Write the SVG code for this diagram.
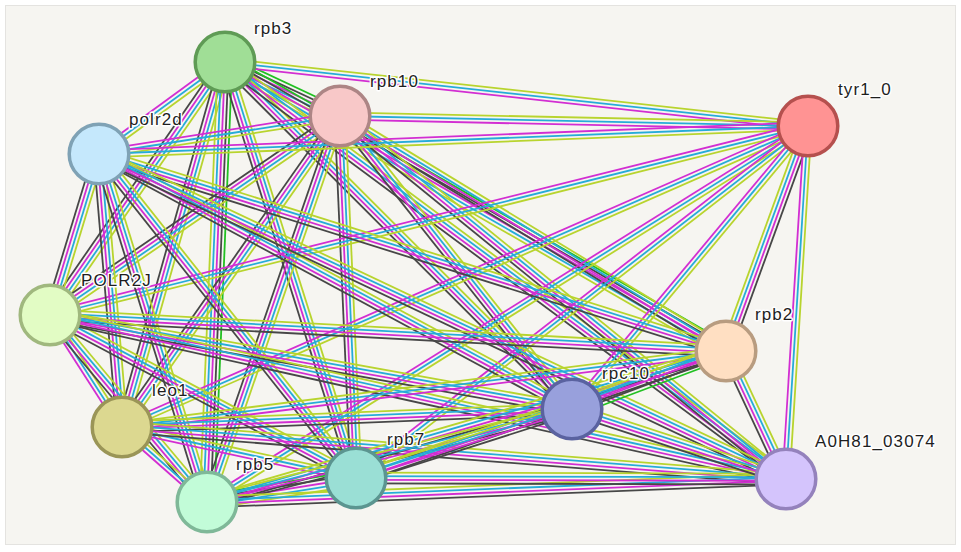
<svg xmlns="http://www.w3.org/2000/svg" width="961" height="552" viewBox="0 0 961 552">
<style>
.y{stroke:#b8d42e}.c{stroke:#26acd8}.m{stroke:#d22ed2}.k{stroke:#474747}.g{stroke:#22c022}
.b line{stroke-width:1.8;fill:none}
.n{stroke-width:3.5}
.lb{font-family:"Liberation Sans",Arial,sans-serif;font-size:17px;letter-spacing:1.1px;fill:#1e1e1e;stroke:#fff;stroke-width:3;stroke-linejoin:round;paint-order:stroke}
</style>
<defs>
<g id="ycm" class="b"><line class="y" x1="0" y1="-3.6" x2="1" y2="-3.6"/><line class="c" x1="0" y1="0" x2="1" y2="0"/><line class="m" x1="0" y1="3.6" x2="1" y2="3.6"/></g>
<g id="ycmk" class="b"><line class="y" x1="0" y1="-5.4" x2="1" y2="-5.4"/><line class="c" x1="0" y1="-1.8" x2="1" y2="-1.8"/><line class="m" x1="0" y1="1.8" x2="1" y2="1.8"/><line class="k" x1="0" y1="5.4" x2="1" y2="5.4"/></g>
<g id="g5" class="b"><line class="g" x1="0" y1="-7.2" x2="1" y2="-7.2"/><line class="k" x1="0" y1="-3.6" x2="1" y2="-3.6"/><line class="m" x1="0" y1="0" x2="1" y2="0"/><line class="c" x1="0" y1="3.6" x2="1" y2="3.6"/><line class="y" x1="0" y1="7.2" x2="1" y2="7.2"/></g>
</defs>
<rect x="0" y="0" width="961" height="552" fill="#fff"/>
<rect x="5.5" y="5.5" width="950" height="539" fill="#f6f5f1" stroke="#e4e3e0" stroke-width="1"/>
<g id="edges">
<use href="#g5" transform="matrix(115 54 -0.425 0.905 225 62)"/>
<use href="#ycm" transform="matrix(583 64 -0.109 0.994 225 62)"/>
<use href="#ycm" transform="matrix(-126 92 -0.590 -0.808 225 62)"/>
<use href="#ycmk" transform="matrix(-175 253 -0.822 -0.569 225 62)"/>
<use href="#ycmk" transform="matrix(-103 365 -0.962 -0.272 225 62)"/>
<use href="#g5" transform="matrix(-18 440 -0.999 -0.041 225 62)"/>
<use href="#ycmk" transform="matrix(131 416 -0.954 0.300 225 62)"/>
<use href="#g5" transform="matrix(501 289 -0.500 0.866 225 62)"/>
<use href="#ycmk" transform="matrix(347 347 -0.707 0.707 225 62)"/>
<use href="#ycmk" transform="matrix(561 417 -0.597 0.803 225 62)"/>
<use href="#ycm" transform="matrix(468 10 -0.021 1 340 116)"/>
<use href="#ycm" transform="matrix(-241 38 -0.156 -0.988 340 116)"/>
<use href="#ycmk" transform="matrix(-290 199 -0.566 -0.825 340 116)"/>
<use href="#ycmk" transform="matrix(-218 311 -0.819 -0.574 340 116)"/>
<use href="#ycmk" transform="matrix(-133 386 -0.945 -0.326 340 116)"/>
<use href="#ycmk" transform="matrix(16 362 -0.999 0.044 340 116)"/>
<use href="#ycmk" transform="matrix(386 235 -0.520 0.854 340 116)"/>
<use href="#ycmk" transform="matrix(232 293 -0.784 0.621 340 116)"/>
<use href="#ycmk" transform="matrix(446 363 -0.631 0.776 340 116)"/>
<use href="#ycm" transform="matrix(-709 28 -0.039 -0.999 808 126)"/>
<use href="#ycm" transform="matrix(-758 189 -0.242 -0.970 808 126)"/>
<use href="#ycm" transform="matrix(-686 301 -0.402 -0.916 808 126)"/>
<use href="#ycm" transform="matrix(-601 376 -0.530 -0.848 808 126)"/>
<use href="#ycm" transform="matrix(-452 352 -0.614 -0.789 808 126)"/>
<use href="#ycmk" transform="matrix(82 -225 0.939 0.342 726 351)"/>
<use href="#ycm" transform="matrix(-236 283 -0.768 -0.640 808 126)"/>
<use href="#ycm" transform="matrix(-22 353 -0.998 -0.062 808 126)"/>
<use href="#ycmk" transform="matrix(-49 161 -0.957 -0.291 99 154)"/>
<use href="#ycmk" transform="matrix(23 273 -0.996 0.084 99 154)"/>
<use href="#ycmk" transform="matrix(108 348 -0.955 0.296 99 154)"/>
<use href="#ycmk" transform="matrix(257 324 -0.784 0.622 99 154)"/>
<use href="#ycmk" transform="matrix(627 197 -0.300 0.954 99 154)"/>
<use href="#ycmk" transform="matrix(473 255 -0.475 0.880 99 154)"/>
<use href="#ycmk" transform="matrix(687 325 -0.428 0.904 99 154)"/>
<use href="#ycm" transform="matrix(72 112 -0.841 0.541 50 315)"/>
<use href="#ycmk" transform="matrix(157 187 -0.766 0.643 50 315)"/>
<use href="#ycmk" transform="matrix(306 163 -0.470 0.883 50 315)"/>
<use href="#ycmk" transform="matrix(676 36 -0.053 0.999 50 315)"/>
<use href="#ycmk" transform="matrix(522 94 -0.177 0.984 50 315)"/>
<use href="#ycmk" transform="matrix(736 164 -0.218 0.976 50 315)"/>
<use href="#ycm" transform="matrix(85 75 -0.661 0.750 122 427)"/>
<use href="#ycm" transform="matrix(234 51 -0.213 0.977 122 427)"/>
<use href="#ycm" transform="matrix(604 -76 0.125 0.992 122 427)"/>
<use href="#ycmk" transform="matrix(450 -18 0.040 0.999 122 427)"/>
<use href="#ycmk" transform="matrix(664 52 -0.078 0.997 122 427)"/>
<use href="#g5" transform="matrix(149 -24 0.159 0.987 207 502)"/>
<use href="#ycmk" transform="matrix(519 -151 0.279 0.960 207 502)"/>
<use href="#ycmk" transform="matrix(365 -93 0.247 0.969 207 502)"/>
<use href="#ycmk" transform="matrix(579 -23 0.040 0.999 207 502)"/>
<use href="#ycmk" transform="matrix(370 -127 0.325 0.946 356 478)"/>
<use href="#ycmk" transform="matrix(216 -69 0.304 0.952 356 478)"/>
<use href="#ycmk" transform="matrix(430 1 -0.002 1 356 478)"/>
<use href="#g5" transform="matrix(-154 58 -0.352 -0.936 726 351)"/>
<use href="#ycmk" transform="matrix(60 128 -0.905 0.424 726 351)"/>
<use href="#ycmk" transform="matrix(214 70 -0.311 0.950 572 409)"/>
</g>
<g id="node-rpb3"><circle class="n" cx="225" cy="62" r="29.8" fill="#a0de96" stroke="#5f9b55"/><text class="lb" x="254" y="34">rpb3</text></g>
<g id="node-rpb10"><circle class="n" cx="340" cy="116" r="29.8" fill="#f8c8c8" stroke="#ad8585"/><text class="lb" x="370" y="87">rpb10</text></g>
<g id="node-tyr1_0"><circle class="n" cx="808" cy="126" r="29.8" fill="#ff9393" stroke="#b5504e"/><text class="lb" x="838" y="95">tyr1_0</text></g>
<g id="node-polr2d"><circle class="n" cx="99" cy="154" r="29.8" fill="#c5e8fc" stroke="#7fa2b5"/><text class="lb" x="129" y="125">polr2d</text></g>
<g id="node-POLR2J"><circle class="n" cx="50" cy="315" r="29.8" fill="#e2fcc4" stroke="#a0b87e"/><text class="lb" x="81" y="286">POLR2J</text></g>
<g id="node-leo1"><circle class="n" cx="122" cy="427" r="29.8" fill="#dcd890" stroke="#9a9557"/><text class="lb" x="152" y="396">leo1</text></g>
<g id="node-rpb5"><circle class="n" cx="207" cy="502" r="29.8" fill="#c2fcd8" stroke="#7fb898"/><text class="lb" x="236" y="470">rpb5</text></g>
<g id="node-rpb7"><circle class="n" cx="356" cy="478" r="29.8" fill="#9adfd5" stroke="#5b9590"/><text class="lb" x="387" y="445">rpb7</text></g>
<g id="node-rpb2"><circle class="n" cx="726" cy="351" r="29.8" fill="#ffdfc2" stroke="#b89c80"/><text class="lb" x="755" y="320">rpb2</text></g>
<g id="node-rpc10"><circle class="n" cx="572" cy="409" r="29.8" fill="#98a0dc" stroke="#5a62a0"/><text class="lb" x="602" y="379">rpc10</text></g>
<g id="node-A0H81_03074"><circle class="n" cx="786" cy="479" r="29.8" fill="#d4c4fc" stroke="#9482bc"/><text class="lb" x="815" y="447">A0H81_03074</text></g>
</svg>
